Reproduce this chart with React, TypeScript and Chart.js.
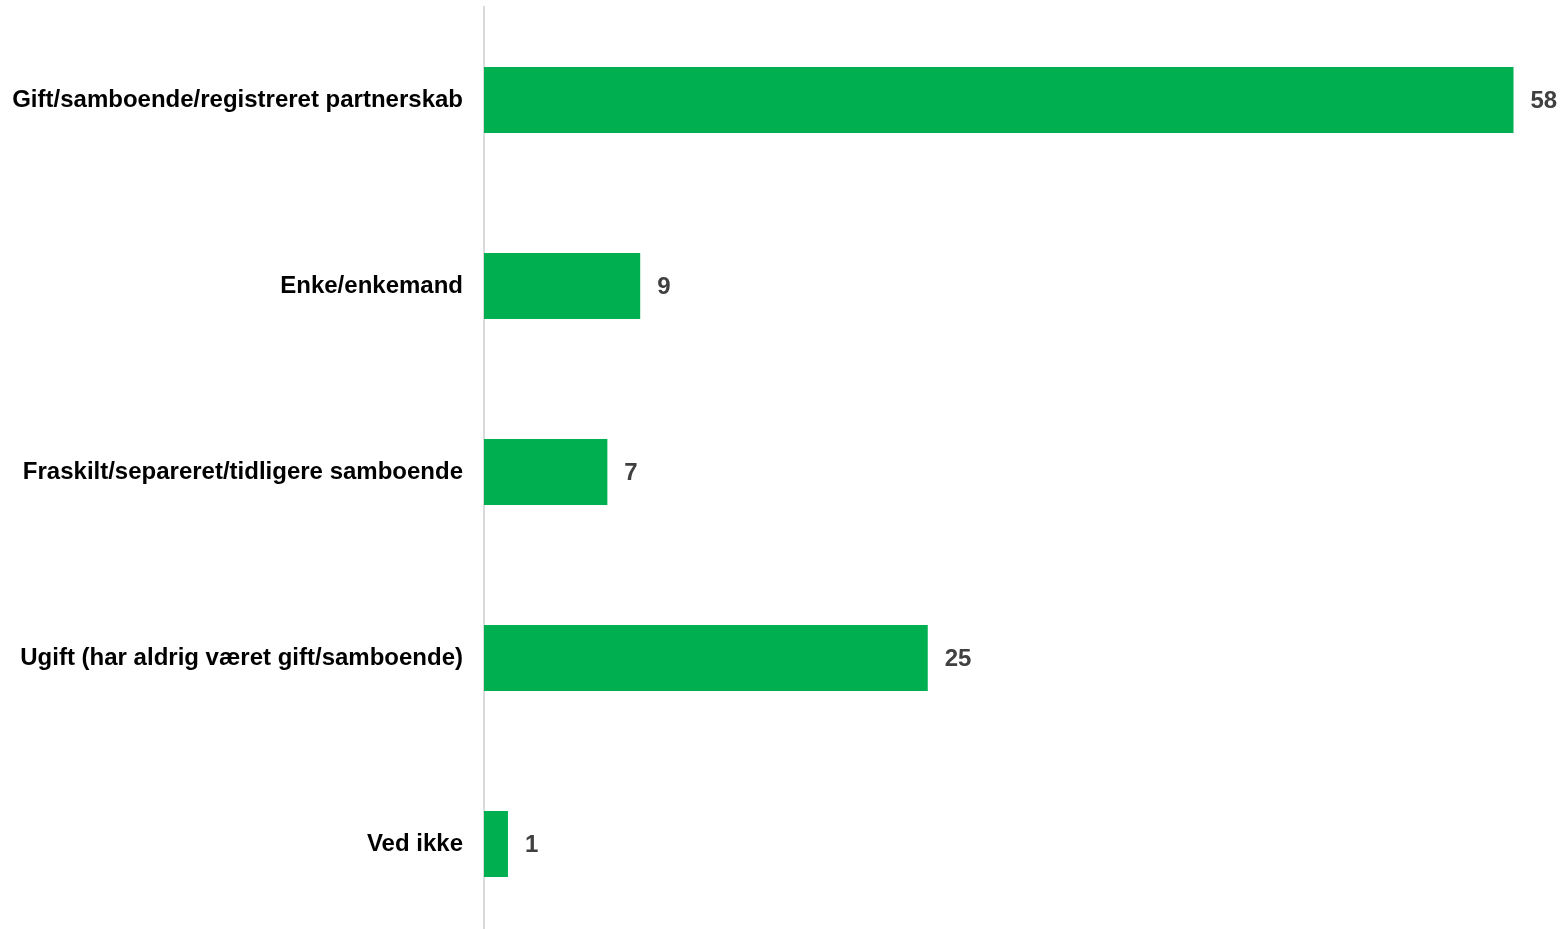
import React, { useEffect, useRef } from "react";
import { Chart, registerables } from "chart.js";

Chart.register(...registerables);

const categories = [
  "Gift/samboende/registreret partnerskab",
  "Enke/enkemand",
  "Fraskilt/separeret/tidligere samboende",
  "Ugift (har aldrig været gift/samboende)",
  "Ved ikke",
];
const values = [58, 8.8, 6.95, 25, 1.35];
const valueLabels = ["58", "9", "7", "25", "1"];

const FONT = "'Liberation Sans', Arial, sans-serif";

const valueLabelPlugin = {
  id: "valueLabels",
  afterDatasetsDraw(chart: any) {
    const ctx = chart.ctx;
    const meta = chart.getDatasetMeta(0);
    ctx.save();
    ctx.font = `bold 24px ${FONT}`;
    ctx.fillStyle = "#404040";
    ctx.textAlign = "left";
    ctx.textBaseline = "middle";
    meta.data.forEach((bar: any, i: number) => {
      ctx.fillText(valueLabels[i], bar.x + 17, bar.y + 1);
    });
    ctx.restore();
  },
};

export default function App() {
  const ref = useRef<HTMLCanvasElement>(null);
  useEffect(() => {
    document.body.style.margin = "0";
    const chart = new Chart(ref.current!, {
      type: "bar",
      data: {
        labels: categories,
        datasets: [
          {
            data: values,
            backgroundColor: "#00B050",
            borderWidth: 0,
            categoryPercentage: 1,
            barPercentage: 0.355,
          },
        ],
      },
      options: {
        indexAxis: "y",
        animation: false,
        responsive: true,
        maintainAspectRatio: false,
        layout: { padding: { top: 7, right: 14, bottom: 0, left: 0 } },
        plugins: {
          legend: { display: false },
          tooltip: { enabled: false },
        },
        scales: {
          x: {
            display: false,
            min: 0,
            max: 60,
          },
          y: {
            grid: { display: false, drawTicks: false },
            border: { display: true, color: "#d9d9d9", width: 2 },
            ticks: {
              color: "#000000",
              padding: 21,
              font: { family: FONT, size: 24, weight: "bold" },
            },
            afterFit(scale: any) {
              scale.width = 484;
              scale.paddingTop = 0;
              scale.paddingBottom = 0;
            },
          },
        },
      },
      plugins: [valueLabelPlugin],
    });
    return () => chart.destroy();
  }, []);
  return (
    <div style={{ position: "fixed", left: 0, top: 0, width: 1563, height: 929, overflow: "hidden" }}>
      <div style={{ position: "relative", width: 1563, height: 937 }}>
        <canvas ref={ref} />
      </div>
    </div>
  );
}
